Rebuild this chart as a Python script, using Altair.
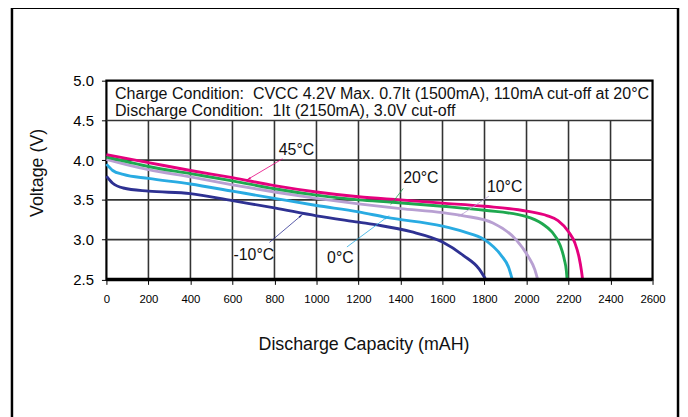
import math
import altair as alt
import pandas as pd

# ---------------- data ----------------
series = ["-10°C", "0°C", "10°C", "20°C", "45°C"]
colors = ["#2e3192", "#29abe2", "#b8a0d2", "#1fa84f", "#e5007e"]

cap_m10 = [0, 30, 80, 200, 400, 600, 800, 1000, 1200, 1300, 1450, 1600, 1700, 1775, 1806]
v_m10 = [3.80, 3.71, 3.65, 3.61, 3.58, 3.49, 3.40, 3.30, 3.22, 3.18, 3.10, 2.97, 2.80, 2.63, 2.50]

cap_0 = [0, 30, 80, 200, 400, 600, 800, 1000, 1200, 1334, 1600, 1700, 1800, 1880, 1915, 1932]
v_0 = [3.95, 3.87, 3.82, 3.77, 3.70, 3.61, 3.52, 3.43, 3.35, 3.28, 3.17, 3.10, 3.00, 2.80, 2.65, 2.50]

cap_10 = [0, 100, 200, 400, 600, 800, 1000, 1200, 1400, 1600, 1700, 1840, 1950, 2010, 2040, 2053]
v_10 = [4.01, 3.94, 3.88, 3.79, 3.69, 3.60, 3.52, 3.45, 3.39, 3.34, 3.30, 3.21, 3.00, 2.78, 2.62, 2.50]

cap_20 = [0, 100, 200, 400, 600, 800, 1000, 1200, 1362, 1600, 1800, 2000, 2075, 2120, 2160, 2180, 2190, 2193]
v_20 = [4.04, 3.98, 3.92, 3.83, 3.74, 3.64, 3.56, 3.50, 3.47, 3.42, 3.37, 3.29, 3.20, 3.10, 2.93, 2.75, 2.60, 2.50]

cap_45 = [0, 100, 200, 400, 600, 800, 1000, 1200, 1400, 1600, 1800, 2000, 2100, 2150, 2200, 2230, 2250, 2262, 2267]
v_45 = [4.07, 4.02, 3.97, 3.87, 3.78, 3.68, 3.60, 3.54, 3.50, 3.46, 3.42, 3.36, 3.30, 3.24, 3.10, 2.96, 2.78, 2.60, 2.50]

curve_caps = [cap_m10, cap_0, cap_10, cap_20, cap_45]
curve_volts = [v_m10, v_0, v_10, v_20, v_45]

# label positions and arrows (capacity, voltage)
label_cap = [702, 1114, 1896, 1497, 905]
label_v = [2.81, 2.77, 3.66, 3.78, 4.13]
arrow_from_cap = [776, 1145, 1821, 1413, 838]
arrow_from_v = [2.965, 2.908, 3.547, 3.643, 4.017]
arrow_to_cap = [925, 1334, 1688, 1362, 678]
arrow_to_v = [3.298, 3.279, 3.310, 3.469, 3.766]

info_lines = [
    "Charge Condition:\u00a0 CVCC 4.2V Max. 0.7It (1500mA), 110mA cut-off at 20°C",
    "Discharge Condition:\u00a0 1It (2150mA), 3.0V cut-off",
]
info_cap = [41, 41]
info_v = [4.769, 4.557]

x_ticks = list(range(0, 2601, 200))
y_ticks = [2.5, 3.0, 3.5, 4.0, 4.5, 5.0]
vgrid_caps = list(range(200, 2401, 200))
hgrid_volts = [3.0, 3.5, 4.0, 4.5]

# ---------------- layout ----------------
W, H = 551, 200.5
PX_PER_CAP = W / 2600.0
PX_PER_V = H / 2.5
FONT = "Liberation Sans"

xs = alt.Scale(domain=[0, 2600], nice=False, zero=False)
ys = alt.Scale(domain=[2.5, 5.0], nice=False, zero=False)
cscale = alt.Scale(domain=series, range=colors)

XAXIS = alt.Axis(
    values=x_ticks, format="d", title="Discharge Capacity (mAH)", grid=False, domain=False,
    tickSize=5, tickColor="black", labelFontSize=11.5, labelPadding=9,
    labelColor="black", labelFont=FONT, titleFont=FONT, titleFontSize=18,
    titleFontWeight="normal", titleColor="#111111", titleX=259.4, titleY=70.5,
    titleBaseline="alphabetic", titleAlign="center", labelFlush=False,
)
YAXIS = alt.Axis(
    values=y_ticks, format=".1f", title="Voltage (V)", grid=False, domain=False,
    tickSize=5, tickColor="black", labelFontSize=15, labelPadding=8,
    labelColor="black", labelFont=FONT, titleFont=FONT, titleFontSize=18,
    titleFontWeight="normal", titleColor="#111111", titleX=-69, titleY=92.5,
    titleAngle=270, titleAlign="center", titleBaseline="middle", labelFlush=False,
)


def X(f):
    return alt.X(f, scale=xs, axis=XAXIS)


def Y(f):
    return alt.Y(f, scale=ys, axis=YAXIS)


layers = []

# grid
vg = pd.DataFrame({"cap": vgrid_caps, "v0": 2.5, "v1": 4.5})
layers.append(
    alt.Chart(vg).mark_rule(color="#333333", strokeWidth=1.6).encode(
        x=X("cap:Q"), y=Y("v0:Q"), y2="v1:Q",
    )
)
hg = pd.DataFrame({"v": hgrid_volts, "c0": 0, "c1": 2600})
layers.append(
    alt.Chart(hg).mark_rule(color="#333333", strokeWidth=1.6).encode(
        y=Y("v:Q"), x=X("c0:Q"), x2="c1:Q",
    )
)

# curves
for s, caps, vs in zip(series, curve_caps, curve_volts):
    df = pd.DataFrame({"cap": caps, "v": vs, "series": s})
    layers.append(
        alt.Chart(df).mark_line(strokeWidth=2.9, interpolate="monotone").encode(
            x=X("cap:Q"), y=Y("v:Q"),
            color=alt.Color("series:N", scale=cscale, legend=None),
        )
    )

# bottom axis line (thick)
layers.append(
    alt.Chart(pd.DataFrame({"v": [2.5], "c0": [0], "c1": [2600]})).mark_rule(
        color="black", strokeWidth=3.5
    ).encode(y=Y("v:Q"), x=X("c0:Q"), x2="c1:Q")
)

# arrows
angles = []
for fc, fv, tc, tv in zip(arrow_from_cap, arrow_from_v, arrow_to_cap, arrow_to_v):
    dx = (tc - fc) * PX_PER_CAP
    dy = -(tv - fv) * PX_PER_V
    angles.append(math.degrees(math.atan2(dx, -dy)) % 360)
ar = pd.DataFrame({
    "series": series, "fc": arrow_from_cap, "fv": arrow_from_v,
    "tc": arrow_to_cap, "tv": arrow_to_v, "angle": angles,
})
layers.append(
    alt.Chart(ar).mark_rule(strokeWidth=0.8).encode(
        x=X("fc:Q"), y=Y("fv:Q"), x2="tc:Q", y2="tv:Q",
        color=alt.Color("series:N", scale=cscale, legend=None),
    )
)
layers.append(
    alt.Chart(ar).mark_point(shape="wedge", filled=True, size=50, opacity=1).encode(
        x=X("tc:Q"), y=Y("tv:Q"),
        angle=alt.Angle("angle:Q", scale=None),
        color=alt.Color("series:N", scale=cscale, legend=None),
    )
)

# series labels
lb = pd.DataFrame({"series": series, "cap": label_cap, "v": label_v})
layers.append(
    alt.Chart(lb).mark_text(font=FONT, fontSize=16, color="#111111", align="center",
                            baseline="middle").encode(
        x=X("cap:Q"), y=Y("v:Q"), text="series:N",
    )
)

# condition text
info = pd.DataFrame({"t": info_lines, "cap": info_cap, "v": info_v})
layers.append(
    alt.Chart(info).mark_text(font=FONT, fontSize=16.15, color="#111111", align="left",
                              baseline="alphabetic").encode(
        x=X("cap:Q"), y=Y("v:Q"), text="t:N",
    )
)

# outer frame of the figure
layers.append(
    alt.Chart(pd.DataFrame({"a": [0]})).mark_rect(
        filled=False, stroke="black", strokeWidth=2.5
    ).encode(
        x=alt.value(-95.3), x2=alt.value(576.7), y=alt.value(-73.5), y2=alt.value(420)
    )
)

chart = alt.layer(*layers).properties(
    width=W, height=H,
    padding={"left": 99.3, "top": 71.5, "right": 27.7, "bottom": 137},
    autosize=alt.AutoSizeParams(type="none"),
    background="white",
).configure_view(stroke="black", strokeWidth=2.2)

chart.save("out.html", embed_options={"renderer": "svg", "actions": False})
